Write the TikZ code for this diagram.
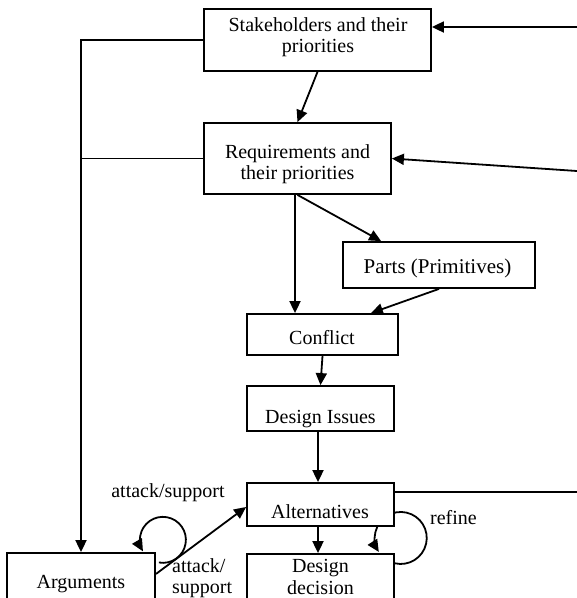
\documentclass[tikz,border=0pt]{standalone}
\usepackage{fontspec}
\setmainfont{Liberation Serif}
\usetikzlibrary{arrows.meta,calc}
\pgfdeclarelayer{bg}
\pgfsetlayers{bg,main}
\begin{document}
\begin{tikzpicture}[x=1pt,y=-1pt,
  box/.style={draw, line width=1.8pt, fill=white, inner sep=0pt},
  lbl/.style={font=\fontsize{20}{21.5}\selectfont, inner sep=0pt, anchor=base, align=center},
  link/.style={line width=1.8pt},
  arr/.style={link, -{Triangle[length=12pt,width=11pt]}},
]
\useasboundingbox (0,0) rectangle (577,598);
\clip (0,0) rectangle (577,598);

% boxes
\node[box, minimum width=227pt, minimum height=62pt] (stake)    at (317.5,40)  {};
\node[box, minimum width=187pt, minimum height=71pt] (req)      at (297.5,158.5) {};
\node[box, minimum width=192pt, minimum height=46pt] (parts)    at (439,265)   {};
\node[box, minimum width=151pt, minimum height=41pt] (conflict) at (322.5,334.5) {};
\node[box, minimum width=147pt, minimum height=45pt] (issues)   at (320.5,408.5) {};
\node[box, minimum width=147pt, minimum height=43pt] (alt)      at (320.5,504.5) {};
\node[box, minimum width=147pt, minimum height=66pt] (dec)      at (320.5,587) {};
\node[box, minimum width=148pt, minimum height=67pt] (args)     at (81,586.5)  {};

% box texts (multi-line texts sit on the baseline of their last line)
\node[lbl] (tstake)    at (318,52.5)  {Stakeholders and their\\priorities};
\node[lbl] (treq)      at (297.5,179.5) {Requirements and\\their priorities};
\node[lbl, font=\fontsize{21}{22}\selectfont] (tparts) at (437.5,273) {Parts (Primitives)};
\node[lbl] (tconflict) at (322,344)   {Conflict};
\node[lbl] (tissues)   at (320.5,423) {Design Issues};
\node[lbl] (talt)      at (320,518)   {Alternatives};
\node[lbl] (tdec)      at (320.5,594) {Design\\decision};
\node[lbl] (targs)     at (81,588)    {Arguments};

% edge labels
\node[lbl] (latt)   at (168,497) {attack/support};
\node[lbl, anchor=base west, align=left] (latt2) at (172,593.5) {attack/\\support};
\node[lbl, anchor=base west] (lref) at (430,524) {refine};

% incoming lines from the right edge
\coordinate (r1) at (577,27);
\coordinate (r2) at (577,171);
\coordinate (r3) at (577,492);

% connectors
\draw[arr] (r1) -- (stake.east |- r1);
\draw[arr] (stake.west) -| (args.north);
\draw[link] (req.west) -- (req.west -| args.north);
\draw[arr] (stake.south) -- (req.north);
\draw[arr] (r2) -- (req.east);
\draw[arr] ([xshift=-2.5pt]req.south) -- ([xshift=-2.5pt]req.south |- conflict.north);
\draw[arr] (req.south) -- ([xshift=39pt]parts.north west);
\draw[arr] (parts.south) -- ([xshift=-28pt]conflict.north east);
\draw[arr] (conflict.south) -- (issues.north);
\draw[arr] ([xshift=-2.5pt]issues.south) -- ([xshift=-2.5pt]alt.north);
\draw[arr] ([xshift=-2.5pt]alt.south) -- ([xshift=-2.5pt]dec.north);
\draw[link] (alt.east |- r3) -- (r3);
\draw[arr] ([yshift=12.5pt]args.east) -- ([yshift=-2.5pt]alt.west);

% self loops, behind the boxes
\begin{pgfonlayer}{bg}
\draw[arr] ([yshift=23.7pt]dec.east) arc[start angle=103, end angle=-212.5, radius=26];
\draw[arr] ([xshift=3pt,yshift=24pt]args.east) arc[start angle=100, end angle=-210, radius=23];
\end{pgfonlayer}
\end{tikzpicture}
\end{document}
